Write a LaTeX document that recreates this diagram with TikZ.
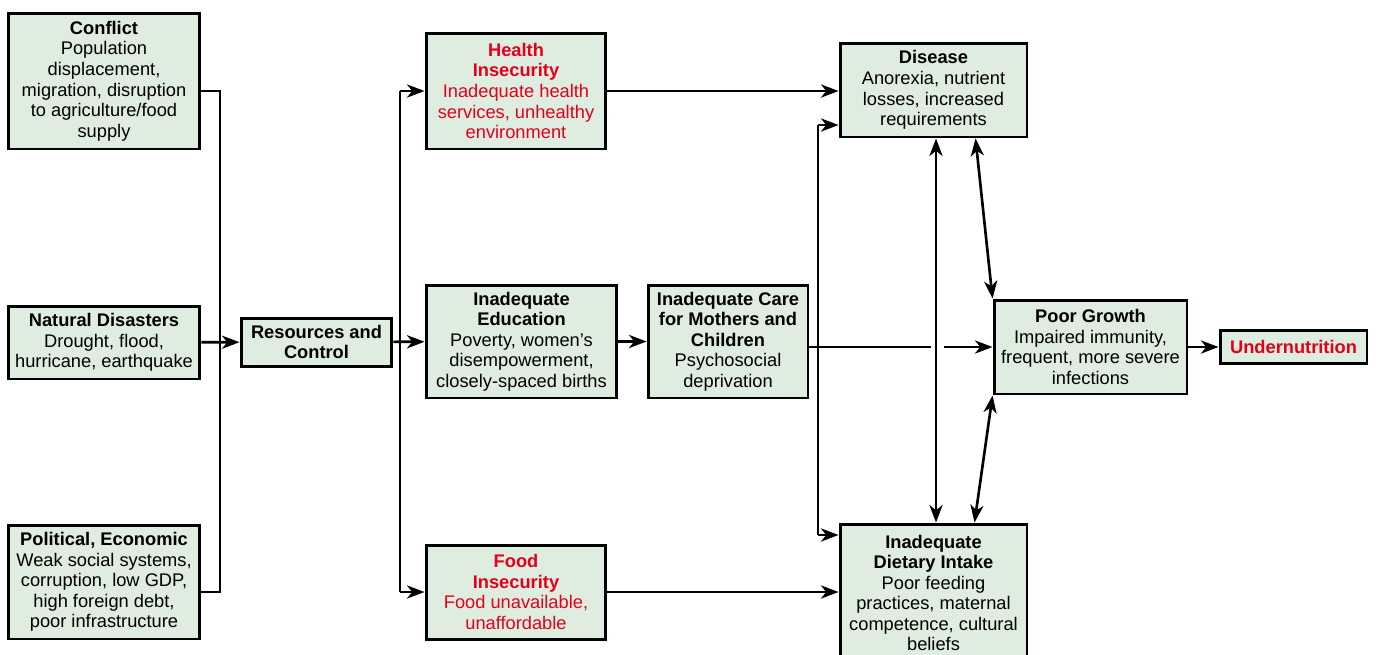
\documentclass[tikz,border=0pt]{standalone}
\usepackage{fontspec}
\setmainfont{Liberation Sans}
\usepackage{tikz}
\usetikzlibrary{arrows.meta,calc}
\definecolor{VerdeCaja}{RGB}{223,236,224}
\definecolor{RojoAlerta}{RGB}{226,0,26}

\begin{document}
\begin{tikzpicture}[x=0.02cm,y=-0.02cm,
  box/.style={draw,line width=1.7pt,fill=VerdeCaja,align=center,inner sep=2pt,
    font=\fontsize{10.4}{11.7}\selectfont},
  wire/.style={line width=1.5pt},
  arr/.style={wire,-{Stealth[length=10pt,width=7.5pt,inset=3pt]}},
  darr/.style={wire,{Stealth[length=10pt,width=7.5pt,inset=3pt]}-{Stealth[length=10pt,width=7.5pt,inset=3pt]}}]
  \useasboundingbox (0,0) rectangle (1376,654);
  \clip (0,0) rectangle (1376,654);
  \node[box,minimum width=3.84cm,minimum height=2.72cm] (conflict) at (104,81)
    {\textbf{Conflict}\\Population\\displacement,\\migration, disruption\\to agriculture/food\\supply};
  \node[box,minimum width=3.84cm,minimum height=1.46cm] (natural) at (104,342.5)
    {\textbf{Natural Disasters}\\Drought, flood,\\hurricane, earthquake};
  \node[box,minimum width=3.84cm,minimum height=2.28cm] (political) at (104,582)
    {\textbf{Political, Economic}\\Weak social systems,\\corruption, low GDP,\\high foreign debt,\\poor infrastructure};
  \node[box,minimum width=3.02cm,minimum height=0.96cm] (resources) at (316.5,342)
    {\textbf{Resources and}\\\textbf{Control}};
  \node[box,text=RojoAlerta,minimum width=3.6cm,minimum height=2.32cm] (health) at (516,91)
    {\textbf{Health}\\\textbf{Insecurity}\\Inadequate health\\services, unhealthy\\environment};
  \node[box,minimum width=3.82cm,minimum height=2.26cm] (education) at (521.5,341.5)
    {\textbf{Inadequate}\\\textbf{Education}\\Poverty, women's\\disempowerment,\\closely-spaced births};
  \node[box,text=RojoAlerta,minimum width=3.6cm,minimum height=1.88cm] (food) at (516,592)
    {\textbf{Food}\\\textbf{Insecurity}\\Food unavailable,\\unaffordable};
  \node[box,minimum width=3.2cm,minimum height=2.26cm] (care) at (728,341.5)
    {\textbf{Inadequate Care}\\\textbf{for Mothers and}\\\textbf{Children}\\Psychosocial\\deprivation};
  \node[box,minimum width=3.74cm,minimum height=1.88cm] (disease) at (933.5,90)
    {\textbf{Disease}\\Anorexia, nutrient\\losses, increased\\requirements};
  \node[box,minimum width=3.74cm,minimum height=2.76cm] (dietary) at (933.5,593)
    {\textbf{Inadequate}\\\textbf{Dietary Intake}\\Poor feeding\\practices, maternal\\competence, cultural\\beliefs};
  \node[box,minimum width=3.86cm,minimum height=1.88cm] (growth) at (1090.5,347)
    {\textbf{Poor Growth}\\Impaired immunity,\\frequent, more severe\\infections};
  \node[box,text=RojoAlerta,minimum width=2.94cm,minimum height=0.66cm] (under) at (1293.5,347)
    {\textbf{Undernutrition}};

  \coordinate (lt) at (220,91);
  \coordinate (lb) at (220,592);
  \coordinate (mt) at (400,91);
  \coordinate (mb) at (400,592);
  \coordinate (rt) at (818,125);
  \coordinate (rb) at (818,535);
  \coordinate (gapL) at (931,347);
  \coordinate (gapR) at (944,347);

  \draw[wire] (conflict.east |- lt) -- (lt) -- (lb) -- (political.east |- lb);
  \draw[arr] (natural) -- (resources);
  \draw[wire] (mt) -- (mb);
  \draw[arr] (resources) -- (education);
  \draw[arr] (mt) -- (health.west |- mt);
  \draw[arr] (mb) -- (food.west |- mb);
  \draw[arr] (health) -- (disease.west |- health);
  \draw[arr] (education) -- (care);
  \draw[arr] (food) -- (dietary.west |- food);
  \draw[wire] (care.east |- gapL) -- (gapL);
  \draw[arr] (gapR) -- (growth);
  \draw[wire] (rt) -- (rb);
  \draw[arr] (rt) -- (disease.west |- rt);
  \draw[arr] (rb) -- (dietary.west |- rb);
  \draw[darr] ($(disease.south)+(2.5,0)$) -- ($(dietary.north)+(2.5,0)$);
  \draw[darr] ($(disease.south)+(42,0)$) -- (growth.north west);
  \draw[darr] ($(dietary.north)+(41,0)$) -- (growth.south west);
  \draw[arr] (growth) -- (under);
\end{tikzpicture}
\end{document}
